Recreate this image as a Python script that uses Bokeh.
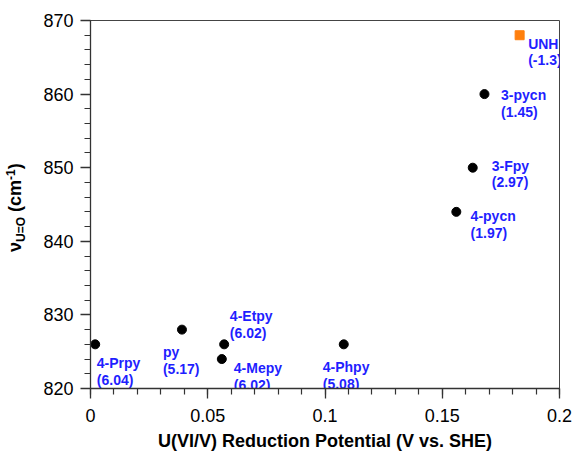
from bokeh.plotting import figure
from bokeh.layouts import row
from bokeh.models import (ColumnDataSource, Range1d, SingleIntervalTicker,
                          NumeralTickFormatter, Div)
from bokeh.core.properties import value
from bokeh.embed import file_html
from bokeh.resources import INLINE

# ---- data ----
names = ["4-Prpy", "py", "4-Etpy", "4-Mepy", "4-Phpy", "4-pycn", "3-Fpy", "3-pycn", "UNH"]
potential = [0.002, 0.039, 0.057, 0.056, 0.108, 0.156, 0.163, 0.168, 0.183]
nu_uo = [826, 828, 826, 824, 826, 844, 850, 860, 868]
pka = [6.04, 5.17, 6.02, 6.02, 5.08, 1.97, 2.97, 1.45, -1.3]
is_reference = [False, False, False, False, False, False, False, False, True]

x_title = "U(VI/V) Reduction Potential (V vs. SHE)"
x_ticks_interval = 0.05
y_ticks_interval = 10

# ---- layout (label offsets in screen px, relative to each point) ----
label_dx = [1.6, -19, 5.7, 12, -21, 14.3, 19, 16.6, 8.5]
label_dy = [19, 22, -28.5, 9, 22.7, 4.4, -1.3, 0.7, 8.5]
line_gap = [17, 17, 17, 17, 17, 17, 16, 17, 16]

W, H = 574, 454
DIV_W = 30
ROW_SHIFT = 9
FONT = "Liberation Sans"
BLUE = "#1f1fff"

p = figure(width=W - DIV_W - ROW_SHIFT, height=H, output_backend="svg", toolbar_location=None,
           x_range=Range1d(0, 0.2), y_range=Range1d(820, 870),
           min_border_left=87 - DIV_W - ROW_SHIFT, min_border_right=16, min_border_top=20,
           min_border_bottom=66)
p.xgrid.visible = False
p.ygrid.visible = False
p.background_fill_color = "white"
p.border_fill_color = "white"
p.outline_line_color = "#444444"
p.outline_line_width = 1

for ax, tk in ((p.xaxis, SingleIntervalTicker(interval=x_ticks_interval, num_minor_ticks=5)),
               (p.yaxis, SingleIntervalTicker(interval=y_ticks_interval, num_minor_ticks=5))):
    ax.ticker = tk
    ax.axis_line_color = "#333333"
    ax.axis_line_width = 1.3
    ax.major_tick_line_color = "#333333"
    ax.minor_tick_line_color = "#333333"
    ax.major_tick_line_width = 1.3
    ax.minor_tick_line_width = 1.2
    ax.major_tick_in = 0
    ax.major_tick_out = 10
    ax.minor_tick_in = 0
    ax.minor_tick_out = 6
    ax.major_label_text_font = FONT
    ax.major_label_text_font_size = "18px"
    ax.major_label_text_color = "black"

p.xaxis.formatter = NumeralTickFormatter(format="0.[00]")
p.xaxis.major_label_standoff = 10
p.yaxis.major_label_standoff = 7

p.xaxis.axis_label = x_title
p.xaxis.axis_label_text_font = FONT
p.xaxis.axis_label_text_font_size = "18px"
p.xaxis.axis_label_text_font_style = "bold"
p.xaxis.axis_label_text_color = "black"
p.xaxis.axis_label_standoff = 6

# ---- marks ----
circ_idx = [i for i, r in enumerate(is_reference) if not r]
sq_idx = [i for i, r in enumerate(is_reference) if r]

circ = ColumnDataSource(dict(x=[potential[i] for i in circ_idx], y=[nu_uo[i] for i in circ_idx]))
sq = ColumnDataSource(dict(x=[potential[i] for i in sq_idx], y=[nu_uo[i] for i in sq_idx]))
p.scatter("x", "y", source=circ, marker="circle", size=9, fill_color="black", line_color="black")
p.scatter("x", "y", source=sq, marker="square", size=9, fill_color="#ff7f0e", line_color="#ff7f0e")

lab = ColumnDataSource(dict(
    x=potential, y=nu_uo, name=names,
    val=["(%s)" % v for v in pka],
    dx=label_dx, dy=label_dy,
    dy2=[a + b for a, b in zip(label_dy, line_gap)],
))
common = dict(source=lab, text_font=value(FONT), text_font_size="14px",
              text_font_style="bold", text_color=BLUE, text_align="left",
              text_baseline="alphabetic")
p.text("x", "y", text="name", x_offset="dx", y_offset="dy", **common)
p.text("x", "y", text="val", x_offset="dx", y_offset="dy2", **common)

# ---- rotated y-axis title with sub/superscript ----
ylab_html = (
    '<div style="position:absolute; left:0px; top:247px; transform:rotate(-90deg); '
    'transform-origin:0 0; white-space:nowrap; font-family:\'Liberation Sans\'; '
    'font-weight:bold; font-size:18px; line-height:20px; color:black;">'
    '\u03bd<span style="font-size:12px; position:relative; top:4px;">U=O</span>'
    ' (cm<span style="font-size:12px; position:relative; top:-6px;">-1</span>)</div>'
)
ydiv = Div(text=ylab_html, width=DIV_W, height=H,
           styles={"position": "relative", "overflow": "visible"})

layout = row(ydiv, p, spacing=0)
open("out.html", "w").write(file_html(layout, INLINE))
